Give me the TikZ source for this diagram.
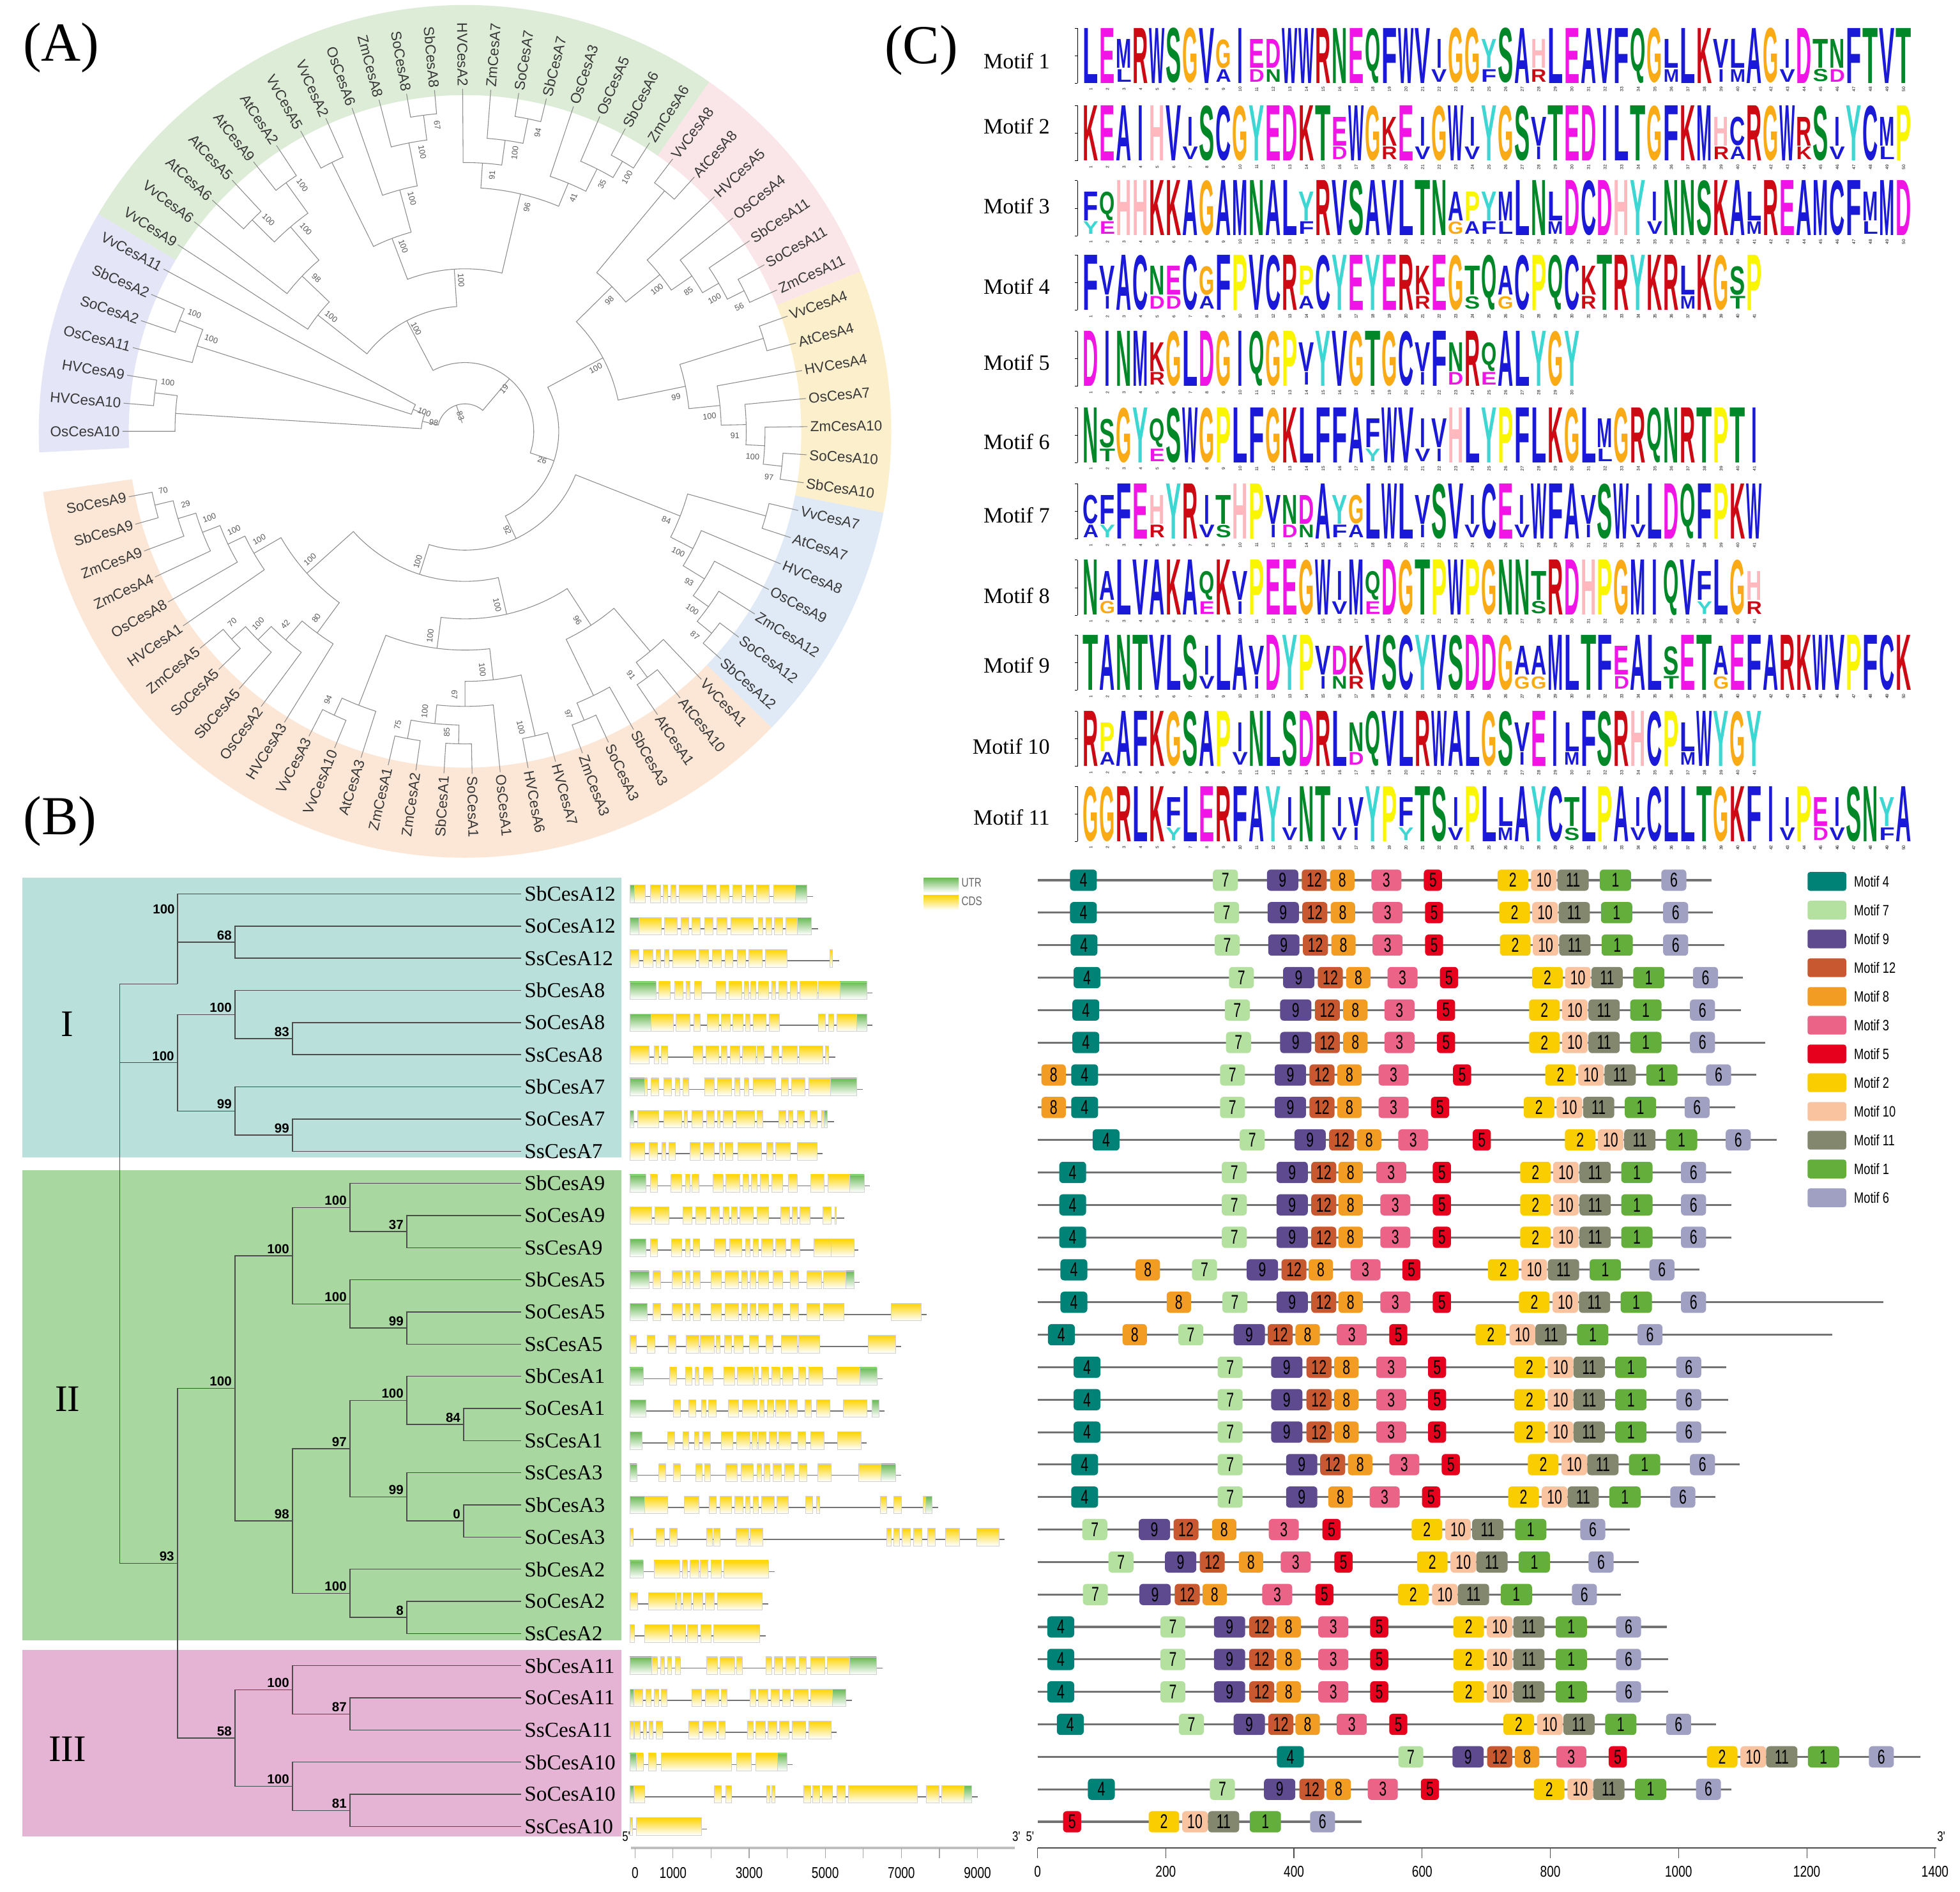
\documentclass[tikz,border=0pt]{standalone}
\usepackage{graphicx}
\usepackage{fontspec}
\setmainfont{Liberation Serif}
\setsansfont{Liberation Sans}
\newfontfamily\lsans{Liberation Sans}
\usetikzlibrary{calc}
% ---------- colours
\definecolor{bandG}{RGB}{220,236,214}
\definecolor{bandP}{RGB}{250,229,233}
\definecolor{bandY}{RGB}{252,239,204}
\definecolor{bandB}{RGB}{223,234,246}
\definecolor{bandO}{RGB}{252,231,214}
\definecolor{bandL}{RGB}{229,229,248}
\definecolor{grpI}{RGB}{185,224,218}
\definecolor{grpII}{RGB}{168,216,160}
\definecolor{grpIII}{RGB}{229,180,212}
\definecolor{cdsY}{RGB}{255,212,0}
\definecolor{utrG}{RGB}{105,185,85}
\definecolor{mc1}{RGB}{100,175,60}
\definecolor{mc2}{RGB}{250,205,0}
\definecolor{mc3}{RGB}{235,100,135}
\definecolor{mc4}{RGB}{0,130,118}
\definecolor{mc5}{RGB}{230,0,30}
\definecolor{mc6}{RGB}{160,160,195}
\definecolor{mc7}{RGB}{181,225,160}
\definecolor{mc8}{RGB}{243,156,35}
\definecolor{mc9}{RGB}{94,75,143}
\definecolor{mc10}{RGB}{249,195,160}
\definecolor{mc11}{RGB}{130,135,110}
\definecolor{mc12}{RGB}{200,88,47}
\definecolor{lgBl}{RGB}{25,25,215}
\definecolor{lgGr}{RGB}{0,135,40}
\definecolor{lgMa}{RGB}{240,20,230}
\definecolor{lgRe}{RGB}{205,10,20}
\definecolor{lgPi}{RGB}{255,185,190}
\definecolor{lgOr}{RGB}{250,170,20}
\definecolor{lgYe}{RGB}{250,245,0}
\definecolor{lgTu}{RGB}{60,215,210}
\colorlet{lgA}{lgBl}\colorlet{lgC}{lgBl}\colorlet{lgF}{lgBl}\colorlet{lgI}{lgBl}
\colorlet{lgL}{lgBl}\colorlet{lgM}{lgBl}\colorlet{lgV}{lgBl}\colorlet{lgW}{lgBl}
\colorlet{lgN}{lgGr}\colorlet{lgQ}{lgGr}\colorlet{lgS}{lgGr}\colorlet{lgT}{lgGr}
\colorlet{lgD}{lgMa}\colorlet{lgE}{lgMa}\colorlet{lgK}{lgRe}\colorlet{lgR}{lgRe}
\colorlet{lgH}{lgPi}\colorlet{lgG}{lgOr}\colorlet{lgP}{lgYe}\colorlet{lgY}{lgTu}
% secondary (smaller) letters under low-information positions
\def\lgsA{G}\def\lgsC{A}\def\lgsD{N}\def\lgsE{D}\def\lgsF{Y}\def\lgsG{A}\def\lgsH{R}
\def\lgsI{V}\def\lgsK{R}\def\lgsL{M}\def\lgsM{L}\def\lgsN{D}\def\lgsP{A}\def\lgsQ{E}
\def\lgsR{K}\def\lgsS{T}\def\lgsT{S}\def\lgsV{I}\def\lgsW{F}\def\lgsY{F}
% ---------- widths of motif boxes
\expandafter\def\csname mw1\endcsname{25}
\expandafter\def\csname mw2\endcsname{24.5}
\expandafter\def\csname mw3\endcsname{24}
\expandafter\def\csname mw4\endcsname{21.5}
\expandafter\def\csname mw5\endcsname{14.5}
\expandafter\def\csname mw6\endcsname{20}
\expandafter\def\csname mw7\endcsname{20}
\expandafter\def\csname mw8\endcsname{19.5}
\expandafter\def\csname mw9\endcsname{25}
\expandafter\def\csname mw10\endcsname{20.5}
\expandafter\def\csname mw11\endcsname{25}
\expandafter\def\csname mw12\endcsname{20}
% ---------- styles
\tikzset{
 trA/.style={draw=black!45,line width=0.55pt},
 bsA/.style={font=\lsans\fontsize{6.5}{6.5}\selectfont,text=black!65,inner sep=0pt},
 lblA/.style={font=\lsans\fontsize{11.5}{12}\selectfont,text=black!78,inner sep=1pt},
 trB/.style={draw=black!70,line width=0.7pt},
 bsB/.style={font=\lsans\bfseries\fontsize{10.5}{11}\selectfont,inner sep=0pt},
 glab/.style={font=\fontsize{17}{17}\selectfont,inner sep=0pt,anchor=west},
 intron/.style={draw=black!55,line width=0.8pt},
 cdsbox/.style={top color=cdsY,bottom color=white,draw=black!18,line width=0.3pt},
 utrbox/.style={top color=utrG,bottom color=white,draw=black!18,line width=0.3pt},
 mline/.style={draw=black!55,line width=1.6pt},
 mbox/.style={rounded corners=3pt,minimum height=17pt,inner sep=0pt,text=black},
 plab/.style={font=\fontsize{44}{44}\selectfont,inner sep=0pt},
}
\newcommand\mnum[1]{\scalebox{0.68}[1]{\lsans\fontsize{16}{16}\selectfont #1}}
\newcommand\cnd[2]{\scalebox{0.78}[1]{\lsans\fontsize{#1}{#1}\selectfont #2}}
% ---------- circular tree helpers
\newcommand\angi[1]{180-4.716*(#1)}
\newcommand\tnd[6]{%
 \draw[trA] ({\angi{#2}}:#3) -- ({\angi{#2}}:#1) arc[start angle={\angi{#2}},end angle={\angi{#4}},radius=#1] -- ({\angi{#4}}:#5);
 \pgfmathsetmacro\tna{180-4.716*((#2)+(#4))/2}%
 \pgfmathsetmacro\tnr{((\tna>90)||(\tna<-90)) ? (\tna+180) : (\tna)}%
 \node[bsA,rotate=\tnr] at ({\tna-2.3}:{#1-9}) {#6};}
\newcommand\bandA[3]{\fill[#3] ({\angi{#1}}:269) arc[start angle={\angi{#1}},end angle={\angi{#2}},radius=269] -- ({\angi{#2}}:341) arc[start angle={\angi{#2}},end angle={\angi{#1}},radius=341] -- cycle;}
% ---------- gene structure helper
\newcommand\gene[4]{%
 \pgfmathsetmacro\gy{715+25.72*#1}%
 \draw[intron] (103,\gy+2) -- (#2,\gy+2);
 \foreach \s/\e in {#3} {\shade[cdsbox] (\s,\gy-7) rectangle (\e,\gy+7);}
 \if\relax\detokenize{#4}\relax\else
 \foreach \s/\e in {#4} {\shade[utrbox] (\s,\gy-7) rectangle (\e,\gy+7);}\fi}
% ---------- motif row helper
\newcommand\mrow[3]{%
 \pgfmathsetmacro\my{704+25.97*#1}%
 \draw[mline] (25,\my) -- (#2,\my);
 \foreach \m/\x in {#3} {\edef\mw{\csname mw\m\endcsname}%
  \node[mbox,fill=mc\m,minimum width=\mw pt] at (\x,\my) {\mnum{\m}};}}
% ---------- logo helpers
\newcount\lgpos
\def\lgrow#1#2{\lgpos=0 \def\lgbot{#1}%
 \draw[line width=0.4pt] (862,#1-44) -- (862,#1) (860,#1) -- (862,#1) (860,#1-22) -- (862,#1-22) (860,#1-44) -- (862,#1-44);
 \lgiter#2\relax}
\def\lgiter#1{\ifx#1\relax\else\lgletter{#1}\expandafter\lgiter\fi}
\def\lgdraw#1#2#3{%
 \if I#1\def\lgw{4.5}\pgfmathsetmacro\lgxx{\lgx+4}\else\def\lgw{12.4}\let\lgxx\lgx\fi
 \node[anchor=south west,inner sep=0pt,outer sep=0pt] at (\lgxx,\lgbot-#3) {\resizebox*{\lgw pt}{#2pt}{\color{lg#1}\lsans\bfseries #1}};}
\def\lgletter#1{%
 \uppercase{\def\lgc{#1}}%
 \pgfmathsetmacro\lgx{866.4+13.27*\the\lgpos}%
 \node[rotate=90,inner sep=0pt,font=\lsans\fontsize{3.4}{3.4}\selectfont] at (\lgx+6.3,\lgbot+5) {\the\numexpr\lgpos+1\relax};
 \ifnum`#1=\lccode`#1\relax
  \lgdraw{\lgc}{23}{12}%
  \edef\lgs{\csname lgs\lgc\endcsname}%
  \lgdraw{\lgs}{10}{1}%
 \else
  \lgdraw{\lgc}{44}{0}%
 \fi
 \advance\lgpos by 1\relax}

\begin{document}
\begin{tikzpicture}[x=1pt,y=-1pt]
\useasboundingbox (0,0) rectangle (1568,1513);
\fill[white] (0,0) rectangle (1568,1513);

% ================= panel labels
\node[plab] (labA) at (49,38) {(A)};
\node[plab] (labB) at (48,657) {(B)};
\node[plab] (labC) at (737,40) {(C)};

% ================= PANEL A : circular tree
\begin{scope}[shift={(372,345)},yscale=-1]
\bandA{-0.6}{6.5}{bandL}
\bandA{6.5}{26.5}{bandG}
\bandA{26.5}{33.5}{bandP}
\bandA{33.5}{40.5}{bandY}
\bandA{40.5}{47.5}{bandB}
\bandA{47.5}{74.6}{bandO}
% lavender
\tnd{250}{1}{274}{2}{274}{100}
\tnd{232}{0}{274}{1.5}{250}{}
\tnd{245}{4}{274}{5}{274}{100}
\tnd{225}{3}{274}{4.5}{245}{100}
\tnd{45}{3.75}{225}{6}{274}{100}
\tnd{35}{0.75}{232}{4.875}{45}{98}
% green
\tnd{240}{9}{274}{10}{274}{100}
\tnd{245}{11}{274}{12}{274}{100}
\tnd{215}{9.5}{240}{11.5}{245}{100}
\tnd{180}{8}{274}{10.5}{215}{98}
\tnd{150}{7}{274}{9.25}{180}{100}
\tnd{240}{13}{274}{14}{274}{}
\tnd{255}{17}{274}{18}{274}{67}
\tnd{235}{16}{274}{17.5}{255}{100}
\tnd{200}{15}{274}{16.75}{235}{100}
\tnd{165}{13.5}{240}{15.875}{200}{100}
\tnd{255}{21}{274}{22}{274}{94}
\tnd{235}{20}{274}{21.5}{255}{100}
\tnd{215}{19}{274}{20.75}{235}{91}
\tnd{250}{25}{274}{26}{274}{100}
\tnd{235}{24}{274}{25.5}{250}{35}
\tnd{215}{23}{274}{24.75}{235}{41}
\tnd{195}{19.875}{215}{23.875}{215}{96}
\tnd{130}{14.69}{165}{21.875}{195}{100}
\tnd{100}{8.125}{150}{18.28}{130}{100}
% pink
\tnd{250}{27}{274}{28}{274}{}
\tnd{250}{32}{274}{33}{274}{56}
\tnd{235}{31}{274}{32.5}{250}{100}
\tnd{220}{30}{274}{31.75}{235}{85}
\tnd{200}{29}{274}{30.875}{220}{100}
\tnd{165}{27.5}{250}{29.94}{200}{98}
% yellow
\tnd{250}{34}{274}{35}{274}{}
\tnd{255}{39}{274}{40}{274}{97}
\tnd{240}{38}{274}{39.5}{255}{100}
\tnd{225}{37}{274}{38.75}{240}{91}
\tnd{205}{36}{274}{37.875}{225}{100}
\tnd{180}{34.5}{250}{36.94}{205}{99}
\tnd{125}{28.72}{165}{35.72}{180}{100}
% blue
\tnd{250}{41}{274}{42}{274}{}
\tnd{255}{46}{274}{47}{274}{87}
\tnd{240}{45}{274}{46.5}{255}{100}
\tnd{225}{44}{274}{45.75}{240}{93}
\tnd{205}{43}{274}{44.875}{225}{100}
\tnd{185}{41.5}{250}{43.94}{205}{84}
% orange
\tnd{245}{49}{274}{50}{274}{91}
\tnd{230}{48}{274}{49.5}{245}{}
\tnd{250}{52}{274}{53}{274}{97}
\tnd{235}{51}{274}{52.5}{250}{}
\tnd{185}{48.75}{230}{51.75}{235}{96}
\tnd{250}{54}{274}{55}{274}{100}
\tnd{250}{57}{274}{58}{274}{85}
\tnd{250}{59}{274}{60}{274}{75}
\tnd{235}{57.5}{250}{59.5}{250}{100}
\tnd{220}{56}{274}{58.5}{235}{67}
\tnd{200}{54.5}{250}{57.25}{220}{100}
\tnd{250}{62}{274}{63}{274}{94}
\tnd{235}{61}{274}{62.5}{250}{}
\tnd{175}{55.875}{200}{61.75}{235}{100}
\tnd{150}{50.25}{185}{58.81}{175}{100}
\tnd{250}{67}{274}{68}{274}{70}
\tnd{235}{66}{274}{67.5}{250}{100}
\tnd{220}{65}{274}{66.75}{235}{42}
\tnd{200}{64}{274}{65.875}{220}{80}
\tnd{255}{73}{274}{74}{274}{70}
\tnd{240}{72}{274}{73.5}{255}{29}
\tnd{225}{71}{274}{72.75}{240}{100}
\tnd{210}{70}{274}{71.875}{225}{100}
\tnd{195}{69}{274}{70.94}{210}{100}
\tnd{170}{64.94}{200}{69.97}{195}{100}
\tnd{120}{54.53}{150}{67.45}{170}{100}
% deep nodes
\tnd{95}{42.72}{185}{60.99}{120}{92}
\tnd{75}{32.22}{125}{51.85}{95}{26}
\tnd{55}{13.2}{100}{42.04}{75}{19}
\tnd{22}{2.81}{35}{27.62}{55}{83}
\draw[trA] ({\angi{15.2}}:22) -- ({\angi{15.2}}:7);
% leaf labels
\foreach \nm [count=\i from 0] in {OsCesA10,HVCesA10,HVCesA9,OsCesA11,SoCesA2,SbCesA2,VvCesA11,VvCesA9,VvCesA6,AtCesA6,AtCesA5,AtCesA9,AtCesA2,VvCesA5,VvCesA2,OsCesA6,ZmCesA8,SoCesA8,SbCesA8,HVCesA2,ZmCesA7,SoCesA7,SbCesA7,OsCesA3,OsCesA5,SbCesA6,ZmCesA6,VvCesA8,AtCesA8,HVCesA5,OsCesA4,SbCesA11,SoCesA11,ZmCesA11,VvCesA4,AtCesA4,HVCesA4,OsCesA7,ZmCesA10,SoCesA10,SbCesA10,VvCesA7,AtCesA7,HVCesA8,OsCesA9,ZmCesA12,SoCesA12,SbCesA12,VvCesA1,AtCesA10,AtCesA1,SbCesA3,SoCesA3,ZmCesA3,HVCesA7,HVCesA6,OsCesA1,SoCesA1,SbCesA1,ZmCesA2,ZmCesA1,AtCesA3,VvCesA10,VvCesA3,HVCesA3,OsCesA2,SbCesA5,SoCesA5,ZmCesA5,HVCesA1,OsCesA8,ZmCesA4,ZmCesA9,SbCesA9,SoCesA9}{
 \pgfmathsetmacro\la{180-4.716*\i}
 \ifnum\i<20
  \node[lblA,anchor=east,rotate=\la+180] (cA\i) at (\la:275) {\nm};
 \else\ifnum\i>57
  \node[lblA,anchor=east,rotate=\la+180] (cA\i) at (\la:275) {\nm};
 \else
  \node[lblA,anchor=west,rotate=\la] (cA\i) at (\la:275) {\nm};
 \fi\fi}
\end{scope}

% ================= PANEL C : motif logos
\foreach \lab/\yy in {Motif 1/48.7,Motif 2/100.8,Motif 3/165,Motif 4/229,Motif 5/290,Motif 6/353.6,Motif 7/412.3,Motif 8/476.5,Motif 9/532,Motif 10/597,Motif 11/654}{
 \node[anchor=east,inner sep=0pt,font=\fontsize{17.5}{18}\selectfont] at (840,\yy) {\lab};}
\lgrow{66.5}{LEmRWSGVgIedWWRNEQFWViGGySAhLEAVFQGlLKvlAGiDtnFTVT}
\lgrow{128.5}{KEAIHViSCGYEDKTeWGkEiGWiYGSvTEDILTGFKMhcRGWrSiYCmP}
\lgrow{188.5}{fqHHKKAGAMNALyRVSAVLTNapymLNlDCDHYiNNSKAlREAMCFmMD}
\lgrow{248}{FvACneCgFPVCRpCYEYERkEGtQaCPQCkTRYKRlKGsP}
\lgrow{309}{DINMkGLDGIQGPvYVGTGCvFnRqALYGY}
\lgrow{370}{NsGYqSWGPLFGKLFFAfWVivHLYPFLKGLmGRQNRTPTI}
\lgrow{431}{cfFEhYRitHPvndAygLWLvSViCEiWFAvSWiLDQFPKW}
\lgrow{492}{NaLVAKAqKvPEEGWiMqDGTPWPGNNtRDHPGMIQVfLGh}
\lgrow{552}{TANTVLSiLAvDYPvdkVSCYVSDDGaaMLTFeALsETaEFARKWVPFCK}
\lgrow{613}{RpAFKGSAPiNLSDRLnQVLRWALGSvEIlFSRHCPlWYGY}
\lgrow{673}{GGRLKfLERFAYiNTivYPfTSiPLlAYCtLPAiCLLTGKFIiPeiSNyA}

% ================= PANEL B : tree
\fill[grpI] (18,702) rectangle (497,926);
\fill[grpII] (18,936) rectangle (497,1312);
\fill[grpIII] (18,1319.5) rectangle (497,1469);
\node[font=\fontsize{30}{30}\selectfont] (gI) at (54,819) {I};
\node[font=\fontsize{30}{30}\selectfont] (gII) at (54,1119) {II};
\node[font=\fontsize{30}{30}\selectfont] (gIII) at (54,1399) {III};
\foreach \nm [count=\k from 0] in {SbCesA12,SoCesA12,SsCesA12,SbCesA8,SoCesA8,SsCesA8,SbCesA7,SoCesA7,SsCesA7,SbCesA9,SoCesA9,SsCesA9,SbCesA5,SoCesA5,SsCesA5,SbCesA1,SoCesA1,SsCesA1,SsCesA3,SbCesA3,SoCesA3,SbCesA2,SoCesA2,SsCesA2,SbCesA11,SoCesA11,SsCesA11,SbCesA10,SoCesA10,SsCesA10}{
 \pgfmathsetmacro\yy{715+25.72*\k}
 \coordinate (l\k) at (417,\yy);
 \node[glab] (g\k) at (419.5,\yy) {\nm};}
\coordinate (rt) at (95.8,787);
\coordinate (n12) at (142,787);
\coordinate (n68) at (188,753.58);
\coordinate (n87g) at (142,850.03);
\coordinate (n8) at (188,811.45);
\coordinate (n83) at (234,830.74);
\coordinate (n7) at (188,888.61);
\coordinate (n99a) at (234,907.9);
\coordinate (n93) at (142,1250.3);
\coordinate (n100a) at (188,1110.45);
\coordinate (n100b) at (234,1004.35);
\coordinate (n9) at (280,965.77);
\coordinate (n37) at (325.5,985.06);
\coordinate (n5) at (280,1042.93);
\coordinate (n99b) at (325.5,1062.22);
\coordinate (n98) at (234,1216.54);
\coordinate (n97) at (280,1158.67);
\coordinate (n1) at (325.5,1120.09);
\coordinate (n84) at (371,1139.38);
\coordinate (n3) at (325.5,1197.25);
\coordinate (n0) at (371,1216.54);
\coordinate (n2) at (280,1274.41);
\coordinate (n8b) at (325.5,1293.7);
\coordinate (n58) at (188,1390.15);
\coordinate (n11) at (234,1351.57);
\coordinate (n87b) at (280,1370.86);
\coordinate (n10) at (234,1428.73);
\coordinate (n81) at (280,1448.02);
\draw[trB] (rt) -- (n12) (rt) |- (n87g) (rt) |- (n93);
\draw[trB] (n12) |- (l0) (n12) |- (n68);
\draw[trB] (n68) |- (l1) (n68) |- (l2);
\draw[trB] (n87g) |- (n8) (n87g) |- (n7);
\draw[trB] (n8) |- (l3) (n8) |- (n83);
\draw[trB] (n83) |- (l4) (n83) |- (l5);
\draw[trB] (n7) |- (l6) (n7) |- (n99a);
\draw[trB] (n99a) |- (l7) (n99a) |- (l8);
\draw[trB] (n93) |- (n100a) (n93) |- (n58);
\draw[trB] (n100a) |- (n100b) (n100a) |- (n98);
\draw[trB] (n100b) |- (n9) (n100b) |- (n5);
\draw[trB] (n9) |- (l9) (n9) |- (n37);
\draw[trB] (n37) |- (l10) (n37) |- (l11);
\draw[trB] (n5) |- (l12) (n5) |- (n99b);
\draw[trB] (n99b) |- (l13) (n99b) |- (l14);
\draw[trB] (n98) |- (n97) (n98) |- (n2);
\draw[trB] (n97) |- (n1) (n97) |- (n3);
\draw[trB] (n1) |- (l15) (n1) |- (n84);
\draw[trB] (n84) |- (l16) (n84) |- (l17);
\draw[trB] (n3) |- (l18) (n3) |- (n0);
\draw[trB] (n0) |- (l19) (n0) |- (l20);
\draw[trB] (n2) |- (l21) (n2) |- (n8b);
\draw[trB] (n8b) |- (l22) (n8b) |- (l23);
\draw[trB] (n58) |- (n11) (n58) |- (n10);
\draw[trB] (n11) |- (l24) (n11) |- (n87b);
\draw[trB] (n87b) |- (l25) (n87b) |- (l26);
\draw[trB] (n10) |- (l27) (n10) |- (n81);
\draw[trB] (n81) |- (l28) (n81) |- (l29);
\node[bsB,anchor=south east] at (140,731) {100};
\foreach \nn/\tt in {n68/68,n87g/100,n8/100,n83/83,n7/99,n99a/99,n93/93,n100a/100,n100b/100,n9/100,n37/37,n5/100,n99b/99,n98/98,n97/97,n1/100,n84/84,n3/99,n0/0,n2/100,n8b/8,n58/58,n11/100,n87b/87,n10/100,n81/81}{
 \node[bsB,anchor=south east] at ($(\nn)+(-2.5,-1.5)$) {\tt};}

% ================= PANEL B : gene structures
\shade[top color=utrG,bottom color=white] (739,702) rectangle (767,714);
\shade[top color=cdsY,bottom color=white] (739,716) rectangle (767,728);
\node[anchor=west,inner sep=0pt,text=black!60] at (769,706) {\cnd{10}{UTR}};
\node[anchor=west,inner sep=0pt,text=black!60] at (769,721) {\cnd{10}{CDS}};
\begin{scope}[xshift=480.3pt,xscale=0.228]
\gene{0}{745}{120/157,175/210,220/235,248/265,277/358,372/405,420/450,465/495,510/535,548/593,607/685}{103/120,685/725}
\gene{1}{765}{135/213,225/270,283/310,322/350,365/395,408/445,457/537,553/570,580/600,610/640,650/690}{103/135,690/740}
\gene{2}{838}{103/135,150/185,195/210,225/240,253/335,345/380,393/425,437/465,480/510,520/568,578/655,805/815}{}
\gene{3}{955}{205/245,260/290,300/315,330/355,405/440,450/495,505/520,528/545,555/590,600/615,625/655,665/690,700/760,765/840}{103/195,840/935}
\gene{4}{955}{178/255,265/315,328/350,375/415,425/455,465/500,510/525,535/580,593/628,765/790,800/818,830/900}{103/178,900/935}
\gene{5}{825}{103/170,188/205,213/235,325/360,370/415,425/445,455/490,497/545,550/575,600/625,637/690,698/780,790/800}{}
\gene{6}{920}{155/165,178/205,222/250,262/278,290/310,365/400,410/460,470/490,505/520,535/615,635/660,670/718,730/808}{103/155,808/900}
\gene{7}{820}{130/205,222/285,293/305,320/360,372/400,410/420,430/465,475/540,550/570,625/650,660/675,690/715,735/760,775/785}{103/118,785/795}
\gene{8}{780}{103/155,170/200,215/228,240/262,315/350,362/400,418/428,438/465,482/565,583/605,615/665,690/760}{}
\gene{9}{945}{175/200,248/285,298/315,322/345,395/430,440/490,500/520,530/550,560/590,600/640,660/690,738/785,798/875}{103/160,875/925}
\gene{10}{855}{103/180,192/240,290/320,335/370,385/418,430/450,460/480,490/535,550/590,633/663,673/690,700/735,780/810,822/828}{}
\gene{11}{905}{175/200,250/285,298/315,325/348,400/440,452/495,510/525,535/555,565/605,615/650,668/700,750/810,810/890}{103/160}
\gene{12}{910}{185/210,252/288,298/315,325/350,388/425,438/485,495/515,525/545,555/590,605/640,665/695,725/775,783/862}{103/170,862/890}
\gene{13}{1145}{185/210,252/288,298/315,325/350,388/425,438/485,495/515,525/545,555/590,605/640,665/695,725/770,783/855,1020/1125}{103/165}
\gene{14}{1055}{103/125,163/190,237/265,300/345,350/400,405/420,435/460,468/500,522/555,580/605,635/690,695/770,940/1035}{}
\gene{15}{990}{243/268,298/320,333/345,362/395,432/470,480/535,540/555,565/590,600/630,640/675,695/720,730/780,830/910}{103/150,910/970}
\gene{16}{998}{255/280,310/335,355/370,380/405,448/485,498/550,558/575,585/607,615/650,660/690,718/740,758/805,853/935}{103/160,952/978}
\gene{17}{935}{235/260,290/310,330/345,358/385,425/465,477/525,532/550,555/580,593/620,625/668,693/720,738/785,832/915}{103/145}
\gene{18}{1055}{205/230,255/280,335/357,365/385,440/480,493/535,550/565,575/595,605/635,645/680,698/725,763/810,905/985}{103/128,985/1035}
\gene{19}{1185}{155/235,295/345,382/405,420/460,470/500,510/525,535/555,565/610,620/660,720/745,758/770,982/1005,1030/1055,1133/1140}{103/155,1140/1163}
\gene{20}{1418}{103/115,195/225,243/270,372/392,398/420,475/520,525/570,1005/1020,1030/1050,1058/1088,1098/1128,1148/1175,1210/1260,1320/1398}{}
\gene{21}{612}{188/278,288/305,315/345,350/378,388/425,433/590}{103/150}
\gene{22}{590}{103/130,168/262,268/282,290/318,325/360,367/400,410/568}{}
\gene{23}{580}{103/120,155/242,252/298,305/340,353/388,398/558}{}
\gene{24}{990}{180/200,210/225,235/250,262/280,372/410,420/470,478/498,580/600,610/640,650/685,697/722,737/788,795/875}{103/180,875/968}
\gene{25}{882}{118/148,160/178,188/205,213/233,320/355,368/415,425/445,525/545,555/588,598/628,638/665,678/728,738/815}{103/118,815/860}
\gene{26}{830}{103/118,120/140,150/162,170/185,195/218,310/345,358/405,415/438,515/535,545/578,588/620,628/662,672/720,730/810}{}
\gene{27}{675}{125/150,168/195,213/460,478/530,545/622}{103/125,622/655}
\gene{28}{1325}{118/155,400/425,440/460,583/595,600/612,712/738,745/770,778/813,830/858,870/1112,1143/1188,1197/1275}{103/118,1275/1303}
\gene{29}{375}{103/112,125/355}{}
\end{scope}
% gene axis
\draw[draw=black!25,line width=2pt] (505,1478) -- (812,1478);
\foreach \t in {0,...,9}{\draw[black!35,line width=0.6pt] (508+30.44*\t,1478) -- (508+30.44*\t,1486);}
\foreach \t in {0,1000,3000,5000,7000,9000}{\node[inner sep=0pt] at (508+0.03044*\t,1498) {\cnd{12.5}{\t}};}
\node[inner sep=0pt] at (501,1469) {\cnd{11}{5'}};
\node[inner sep=0pt] at (813,1469) {\cnd{11}{3'}};

% ================= PANEL B : motif structures
\begin{scope}[xshift=818.07pt,xscale=0.4771]
\mrow{0}{1155}{4/102,7/340,9/436,12/489,8/536,3/610,5/688,2/822,10/874,11/923,1/994,6/1092}
\mrow{1}{1157}{4/102,7/342,9/437,12/490,8/537,3/612,5/690,2/825,10/876,11/925,1/996,6/1095}
\mrow{2}{1177}{4/103,7/343,9/438,12/491,8/538,3/612,5/690,2/826,10/877,11/926,1/997,6/1095}
\mrow{3}{1208}{4/108,7/367,9/463,12/516,8/563,3/637,5/715,2/880,10/931,11/980,1/1050,6/1145}
\mrow{4}{1205}{4/106,7/360,9/458,12/511,8/558,3/632,5/710,2/875,10/926,11/975,1/1045,6/1140}
\mrow{5}{1245}{4/106,7/362,9/458,12/511,8/558,3/632,5/710,2/875,10/926,11/975,1/1045,6/1140}
\mrow{6}{1230}{8/52,4/104,7/352,9/449,12/502,8/548,3/622,5/737,2/902,10/953,11/1002,1/1072,6/1167}
\mrow{7}{1195}{8/52,4/104,7/352,9/449,12/502,8/548,3/622,5/700,2/866,10/917,11/966,1/1036,6/1131}
\mrow{8}{1265}{4/140,7/385,9/482,12/535,8/581,3/655,5/770,2/935,10/986,11/1035,1/1105,6/1200}
\mrow{9}{1188}{4/84,7/355,9/452,12/505,8/550,3/618,5/703,2/860,10/911,11/960,1/1030,6/1125}
\mrow{10}{1188}{4/84,7/355,9/452,12/505,8/550,3/625,5/703,2/860,10/911,11/960,1/1030,6/1125}
\mrow{11}{1188}{4/84,7/355,9/452,12/505,8/550,3/625,5/703,2/860,10/911,11/960,1/1030,6/1125}
\mrow{12}{1135}{4/86,8/210,7/305,9/402,12/455,8/500,3/575,5/652,2/806,10/858,11/907,1/977,6/1072}
\mrow{13}{1443}{4/86,8/262,7/356,9/452,12/505,8/550,3/625,5/703,2/858,10/910,11/959,1/1029,6/1125}
\mrow{14}{1358}{4/65,8/188,7/282,9/380,12/432,8/478,3/552,5/630,2/785,10/838,11/886,1/956,6/1052}
\mrow{15}{1180}{4/108,7/348,9/443,12/497,8/543,3/618,5/695,2/850,10/902,11/950,1/1020,6/1117}
\mrow{16}{1183}{4/108,7/348,9/443,12/497,8/543,3/618,5/695,2/850,10/902,11/950,1/1020,6/1117}
\mrow{17}{1180}{4/108,7/348,9/443,12/497,8/543,3/618,5/695,2/850,10/902,11/950,1/1020,6/1117}
\mrow{18}{1202}{4/104,7/348,9/468,12/520,8/566,3/640,5/718,2/873,10/925,11/973,1/1043,6/1140}
\mrow{19}{1162}{4/104,7/348,9/468,8/533,3/607,5/685,2/840,10/892,11/940,1/1010,6/1107}
\mrow{20}{1018}{7/121,9/221,12/274,8/338,3/438,5/518,2/678,10/730,11/780,1/852,6/956}
\mrow{21}{1033}{7/165,9/265,12/318,8/383,3/458,5/538,2/687,10/739,11/787,1/858,6/970}
\mrow{22}{1003}{7/122,9/222,12/276,8/322,3/427,5/506,2/655,10/708,11/756,1/828,6/942}
\mrow{23}{1080}{4/64,7/252,9/347,12/401,8/446,3/521,5/598,2/748,10/800,11/849,1/920,6/1016}
\mrow{24}{1082}{4/64,7/252,9/347,12/401,8/446,3/521,5/598,2/748,10/800,11/849,1/920,6/1016}
\mrow{25}{1082}{4/64,7/252,9/347,12/401,8/446,3/521,5/598,2/748,10/800,11/849,1/920,6/1016}
\mrow{26}{1163}{4/80,7/283,9/380,12/433,8/478,3/552,5/630,2/832,10/884,11/933,1/1003,6/1100}
\mrow{27}{1505}{4/449,7/651,9/747,12/800,8/846,3/920,5/998,2/1173,10/1225,11/1273,1/1343,6/1440}
\mrow{28}{1188}{4/132,7/335,9/431,12/485,8/530,3/604,5/683,2/883,10/935,11/983,1/1053,6/1150}
\mrow{29}{568}{5/83,2/237,10/289,11/337,1/407,6/503}
\end{scope}
% motif axis
\draw[draw=black!70,line width=1.4pt] (830,1478) -- (1549,1478);
\foreach \t [count=\j from 0] in {0,200,400,600,800,1000,1200,1400}{
 \draw[black!70,line width=0.6pt] (830+102.57*\j,1478) -- (830+102.57*\j,1486);
 \node[inner sep=0pt] at (830+102.57*\j,1497) {\cnd{12.5}{\t}};}
\node[inner sep=0pt] at (824,1469) {\cnd{11}{5'}};
\node[inner sep=0pt] at (1553,1469) {\cnd{11}{3'}};
% motif legend
\foreach \m [count=\j from 0] in {4,7,9,12,8,3,5,2,10,11,1,6}{
 \node[rounded corners=2pt,fill=mc\m,minimum width=31pt,minimum height=15pt,inner sep=0pt] (leg\m) at (1461.5,705+23*\j) {};
 \node[anchor=west,inner sep=0pt] at (1483,705+23*\j) {\cnd{12}{Motif \m}};}
\end{tikzpicture}
\end{document}
